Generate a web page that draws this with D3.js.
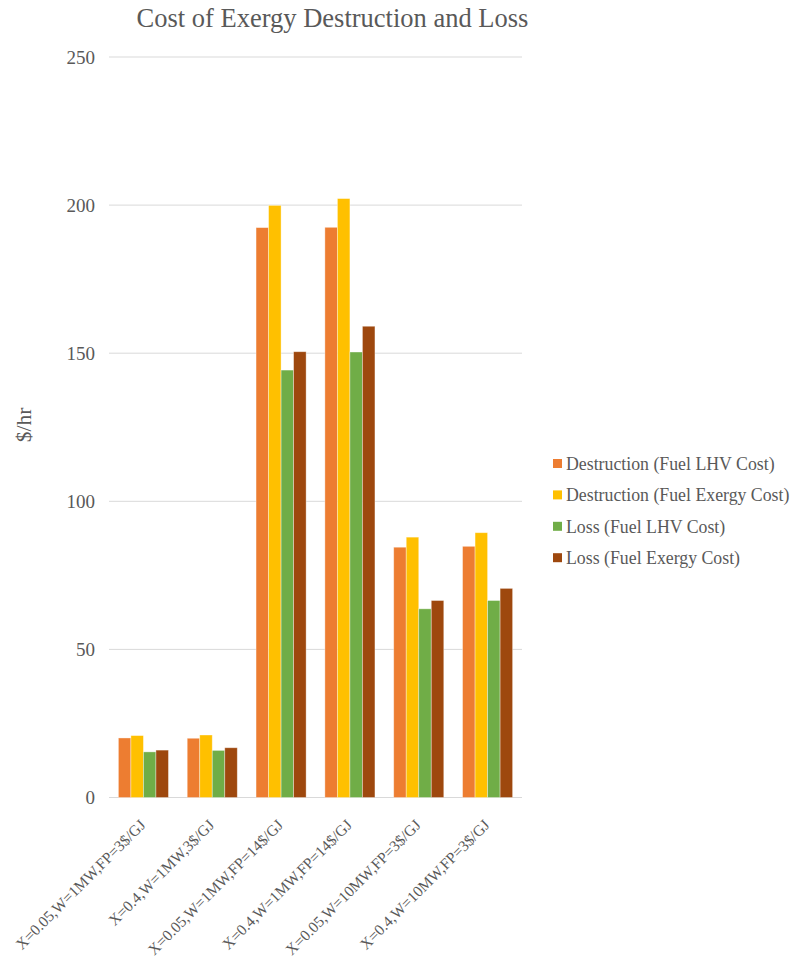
<!DOCTYPE html>
<html>
<head>
<meta charset="utf-8">
<script src="https://cdn.jsdelivr.net/npm/d3@7"></script>
<style>
  body { margin: 0; background: #fff; }
  svg { display: block; font-family: "Liberation Serif", "Times New Roman", serif; }
</style>
</head>
<body>
<svg id="chart" width="791" height="960"></svg>
<script>
const categories = [
  "X=0.05,W=1MW,FP=3$/GJ",
  "X=0.4,W=1MW,3$/GJ",
  "X=0.05,W=1MW,FP=14$/GJ",
  "X=0.4,W=1MW,FP=14$/GJ",
  "X=0.05,W=10MW,FP=3$/GJ",
  "X=0.4,W=10MW,FP=3$/GJ"
];
const seriesNames = [
  "Destruction (Fuel LHV Cost)",
  "Destruction (Fuel Exergy Cost)",
  "Loss (Fuel LHV Cost)",
  "Loss (Fuel Exergy Cost)"
];
const destructionLHV = [20.1, 20.0, 192.4, 192.5, 84.5, 84.8];
const destructionExergy = [20.9, 21.1, 199.9, 202.2, 87.9, 89.4];
const lossLHV = [15.4, 15.9, 144.3, 150.4, 63.7, 66.5];
const lossExergy = [16.0, 16.8, 150.5, 159.1, 66.5, 70.6];
const yTicks = [0, 50, 100, 150, 200, 250];
const colors = ["#ED7D31", "#FFC000", "#70AD47", "#9E480E"];

const seriesValues = [destructionLHV, destructionExergy, lossLHV, lossExergy];

const svg = d3.select("#chart");
const plot = { left: 109, right: 522, top: 57, bottom: 797.5 };

const x0 = d3.scaleBand().domain(categories).range([plot.left, plot.right]);
// four bars per category with a 150% gap shared between neighbours
const x1 = d3.scaleBand().domain(seriesNames).range([0, x0.bandwidth()]).paddingOuter(0.75);
const y = d3.scaleLinear().domain([0, 250]).range([plot.bottom, plot.top]);

// gridlines
svg.append("g").selectAll("line").data(yTicks).join("line")
  .attr("x1", plot.left).attr("x2", plot.right)
  .attr("y1", d => y(d)).attr("y2", d => y(d))
  .attr("stroke", "#d9d9d9").attr("stroke-width", 1);

// y tick labels
svg.append("g").selectAll("text").data(yTicks).join("text")
  .attr("x", 95).attr("y", d => y(d)).attr("dy", "0.35em")
  .attr("text-anchor", "end").attr("font-size", 19).attr("fill", "#595959")
  .text(d => d);

// bars
const groups = svg.append("g").selectAll("g").data(categories).join("g")
  .attr("transform", d => `translate(${x0(d)},0)`);
groups.selectAll("rect")
  .data((c, i) => seriesNames.map((s, j) => ({ s, j, v: seriesValues[j][i] })))
  .join("rect")
  .attr("x", d => x1(d.s))
  .attr("width", x1.bandwidth())
  .attr("y", d => y(d.v))
  .attr("height", d => y(0) - y(d.v))
  .attr("fill", d => colors[d.j])
  .attr("stroke", "rgba(255,255,255,0.45)")
  .attr("stroke-width", 0.8);

// category labels
svg.append("g").selectAll("text").data(categories).join("text")
  .attr("transform", d => `translate(${x0(d) + x0.bandwidth() / 2 + 3},${826}) rotate(-45)`)
  .attr("text-anchor", "end").attr("font-size", 15.5).attr("fill", "#595959")
  .text(d => d);

// title
svg.append("text").attr("x", 332.5).attr("y", 27)
  .attr("text-anchor", "middle").attr("font-size", 26.5).attr("fill", "#595959")
  .text("Cost of Exergy Destruction and Loss");

// y-axis title
svg.append("text").attr("transform", "translate(31,425) rotate(-90)")
  .attr("text-anchor", "middle").attr("font-size", 21.5).attr("fill", "#595959")
  .text("$/hr");

// legend
const legend = svg.append("g").selectAll("g").data(seriesNames).join("g")
  .attr("transform", (d, i) => `translate(553,${463.5 + i * 31.4})`);
legend.append("rect").attr("x", 0).attr("y", -4.5).attr("width", 9).attr("height", 9)
  .attr("fill", (d, i) => colors[i]);
legend.append("text").attr("x", 13).attr("y", 0).attr("dy", "0.35em")
  .attr("font-size", 17.8).attr("fill", "#595959").text(d => d);
</script>
</body>
</html>
